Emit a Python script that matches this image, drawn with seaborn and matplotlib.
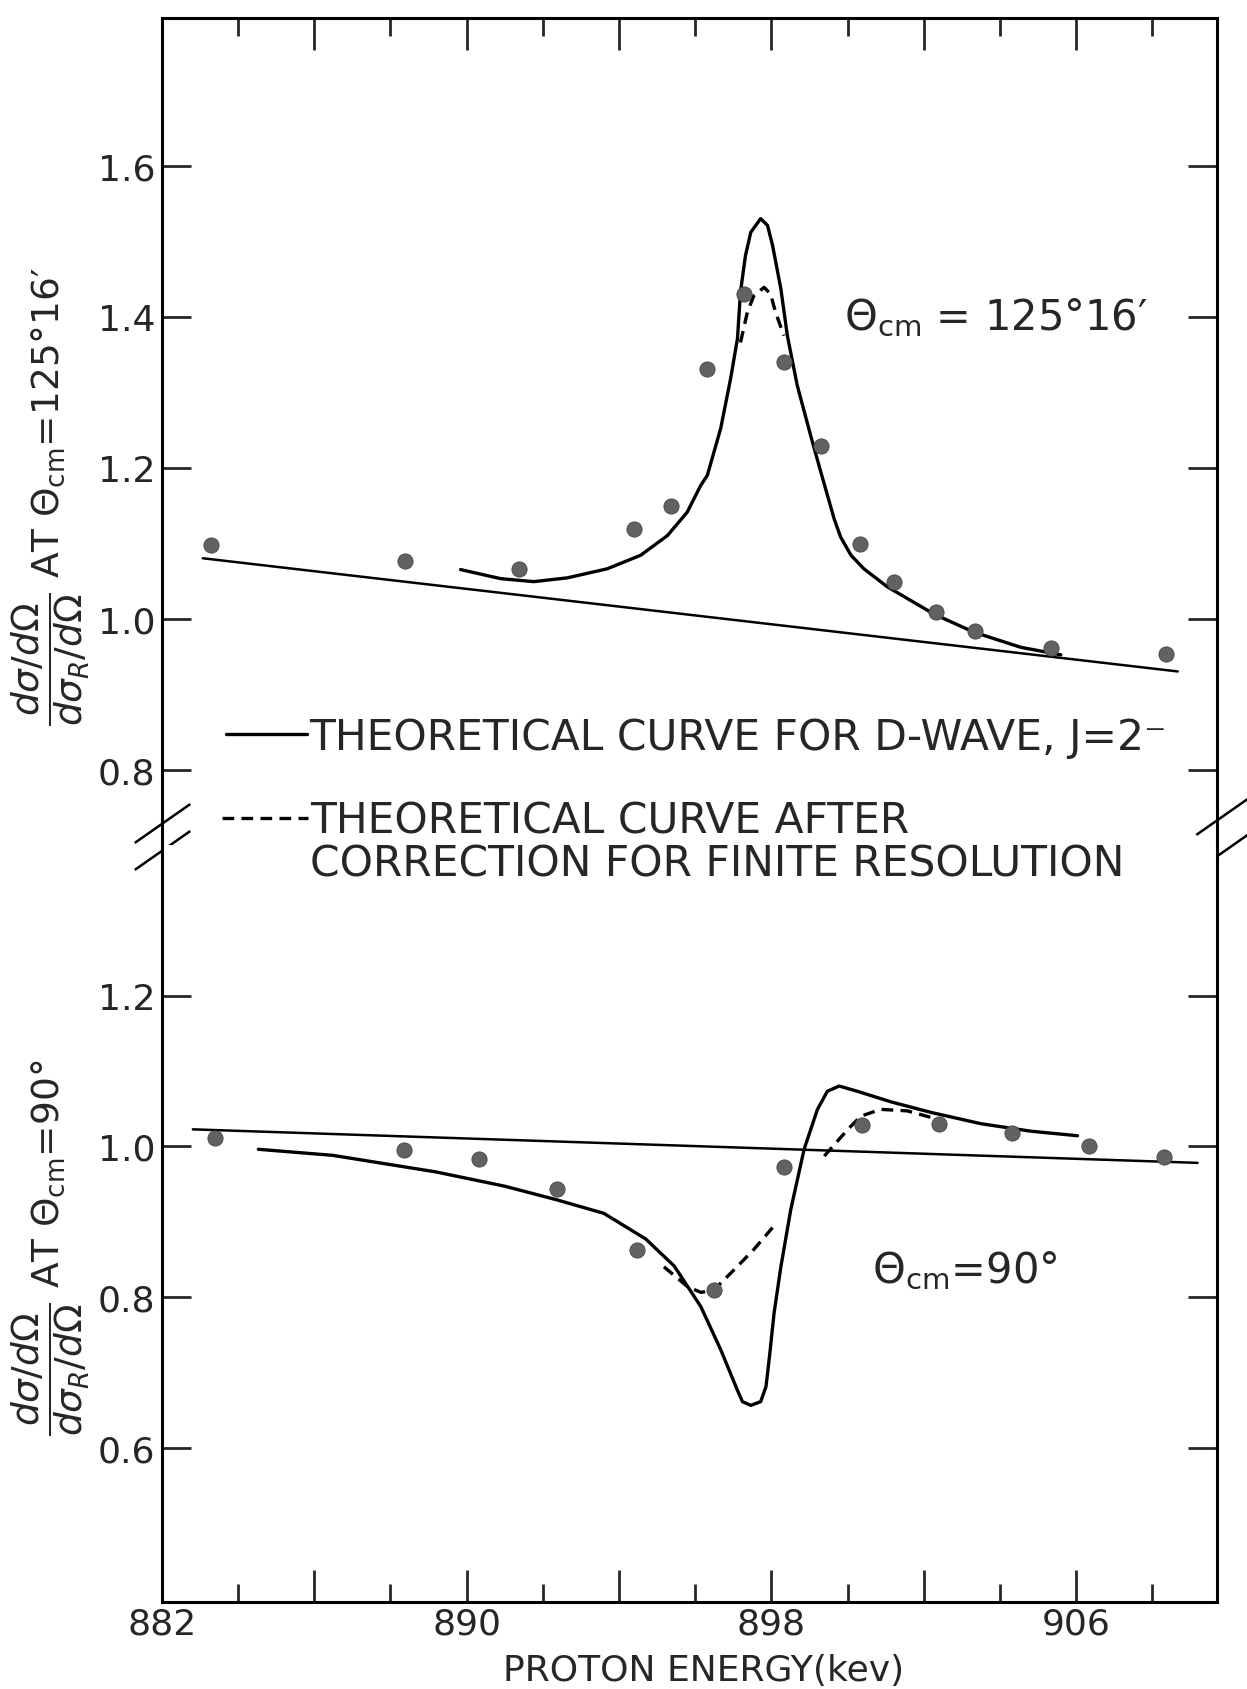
import matplotlib
matplotlib.use('Agg')
import matplotlib.pyplot as plt
import seaborn as sns
from matplotlib import font_manager
from matplotlib.lines import Line2D
from matplotlib.ticker import MultipleLocator, FuncFormatter

# ---- upper panel, Theta_cm = 125 deg 16' ----
top_pts_e = [883.30, 888.39, 891.37, 894.39, 895.36, 896.32, 897.28, 898.33,
             899.30, 900.33, 901.22, 902.32, 903.34, 905.34, 908.36]
top_pts_y = [1.097, 1.077, 1.066, 1.119, 1.149, 1.331, 1.430, 1.340,
             1.229, 1.099, 1.048, 1.009, 0.983, 0.961, 0.953]

top_solid_e = [889.84, 890.89, 891.76, 892.64, 893.69, 894.57, 895.27, 895.79,
               896.14, 896.32, 896.67, 896.93, 897.11, 897.19, 897.32, 897.46,
               897.72, 897.90, 898.03, 898.25, 898.42, 898.68, 899.03, 899.30,
               899.65, 899.82, 900.09, 900.43, 901.05, 902.27, 903.32, 904.55,
               905.60]
top_solid_y = [1.065, 1.053, 1.049, 1.054, 1.066, 1.084, 1.110, 1.141,
               1.176, 1.190, 1.252, 1.318, 1.371, 1.433, 1.481, 1.512,
               1.530, 1.521, 1.495, 1.437, 1.375, 1.309, 1.243, 1.194,
               1.132, 1.108, 1.084, 1.066, 1.042, 1.006, 0.982, 0.962,
               0.952]

top_dash_e = [897.19, 897.37, 897.54, 897.81, 897.98, 898.11, 898.33]
top_dash_y = [1.366, 1.406, 1.428, 1.439, 1.430, 1.406, 1.375]

top_base_e = [883.07, 908.67]
top_base_y = [1.080, 0.930]

# ---- lower panel, Theta_cm = 90 deg ----
bot_pts_e = [883.40, 888.36, 890.32, 892.36, 894.48, 896.49, 898.33, 900.39,
             902.40, 904.33, 906.34, 908.30]
bot_pts_y = [1.011, 0.995, 0.983, 0.943, 0.862, 0.809, 0.972, 1.028,
             1.029, 1.018, 1.000, 0.986]

bot_solid_e = [884.53, 886.48, 889.19, 891.00, 892.36, 893.60, 894.70, 895.45,
               896.15, 896.67, 897.11, 897.24, 897.46, 897.72, 897.86, 897.96,
               898.07, 898.25, 898.51, 898.86, 899.21, 899.47, 899.78, 900.26,
               901.14, 902.19, 903.50, 904.82, 906.04]
bot_solid_y = [0.996, 0.988, 0.966, 0.947, 0.929, 0.911, 0.877, 0.841,
               0.787, 0.730, 0.676, 0.661, 0.656, 0.661, 0.681, 0.725,
               0.778, 0.840, 0.916, 0.996, 1.049, 1.073, 1.080, 1.073,
               1.059, 1.045, 1.030, 1.020, 1.014]

bot_dash1_e = [895.18, 895.79, 896.15, 896.49, 897.02, 897.54, 898.03]
bot_dash1_y = [0.840, 0.814, 0.806, 0.809, 0.836, 0.863, 0.892]
bot_dash2_e = [899.39, 900.00, 900.35, 900.87, 901.57, 902.36]
bot_dash2_y = [0.987, 1.022, 1.040, 1.049, 1.047, 1.036]

bot_base_e = [882.81, 909.19]
bot_base_y = [1.0225, 0.978]

top_yticks = [0.8, 1.0, 1.2, 1.4, 1.6]
bot_yticks = [0.6, 0.8, 1.0, 1.2]

sns.set_style('ticks')
names = {f.name for f in font_manager.fontManager.ttflist}
narrow = 'Liberation Sans Narrow' in names
family = 'Liberation Sans Narrow' if narrow else 'DejaVu Sans'
plt.rcParams['font.family'] = [family, 'DejaVu Sans']
plt.rcParams['mathtext.fontset'] = 'dejavusans'

fs_tick = 26
fs_leg = 30.5
em = fs_leg * 100 / 72

fig = plt.figure(figsize=(12.47, 16.9), dpi=100)
ax1 = fig.add_axes([0.1299, 0.4994, 0.8460, 0.4894])
ax2 = fig.add_axes([0.1299, 0.0515, 0.8460, 0.4479])

lw = 2.4
dot = dict(s=120, color='#626262', edgecolor='#444444', linewidth=0.6, zorder=3)
dash = (0, (3.5, 2.2))

sns.lineplot(x=top_base_e, y=top_base_y, ax=ax1, color='k', lw=1.8, sort=False, estimator=None)
sns.lineplot(x=top_solid_e, y=top_solid_y, ax=ax1, color='k', lw=lw, sort=False, estimator=None)
sns.lineplot(x=top_dash_e, y=top_dash_y, ax=ax1, color='k', lw=lw, sort=False, estimator=None,
             linestyle=dash)
sns.scatterplot(x=top_pts_e, y=top_pts_y, ax=ax1, **dot)

sns.lineplot(x=bot_base_e, y=bot_base_y, ax=ax2, color='k', lw=1.8, sort=False, estimator=None)
sns.lineplot(x=bot_solid_e, y=bot_solid_y, ax=ax2, color='k', lw=lw, sort=False, estimator=None)
for de, dy in [(bot_dash1_e, bot_dash1_y), (bot_dash2_e, bot_dash2_y)]:
    sns.lineplot(x=de, y=dy, ax=ax2, color='k', lw=lw, sort=False, estimator=None,
                 linestyle=dash)
sns.scatterplot(x=bot_pts_e, y=bot_pts_y, ax=ax2, **dot)

ax1.set_ylim(0.7, 1.796)
ax2.set_ylim(0.395, 1.4)
for ax in (ax1, ax2):
    ax.set_xlim(882, 909.7)
    ax.set_xlabel('')
    ax.set_ylabel('')
    ax.xaxis.set_major_locator(MultipleLocator(4, offset=2))
    ax.xaxis.set_minor_locator(MultipleLocator(4))
    ax.xaxis.set_major_formatter(FuncFormatter(
        lambda v, p: f'{v:.0f}' if round(v - 882) % 8 == 0 else ''))
    ax.tick_params(axis='x', which='major', direction='in', length=23, width=2)
    ax.tick_params(axis='x', which='minor', direction='in', length=13, width=2)
    ax.tick_params(axis='y', direction='in', left=True, right=True, length=21, width=2,
                   labelsize=fs_tick, pad=5)
    for s in ax.spines.values():
        s.set_linewidth(2.2)
        s.set_color('k')

ax1.set_yticks(top_yticks)
ax1.set_yticklabels([f'{v:.1f}' for v in top_yticks])
ax2.set_yticks(bot_yticks)
ax2.set_yticklabels([f'{v:.1f}' for v in bot_yticks])

ax1.tick_params(axis='x', which='both', top=True, bottom=False, labelbottom=False)
ax2.tick_params(axis='x', which='both', top=False, bottom=True, labelsize=26, pad=3)
ax1.spines['bottom'].set_visible(False)
ax2.spines['top'].set_visible(False)

# axis break slashes on both spines
brk = [(-1, -0.7), (1, 0.7)]
ax1.plot([0, 0], [0.027, -0.006], transform=ax1.transAxes, marker=brk, markersize=40,
         ls='none', color='k', mew=1.8, clip_on=False)
ax1.plot([1.0076, 1.005], [0.037, -0.008], transform=ax1.transAxes, marker=brk, markersize=42,
         ls='none', color='k', mew=1.8, clip_on=False)

ax1.text(899.90, 1.40, r'$\Theta_{\mathrm{cm}}$ = 125°16′', fontsize=30,
         ha='left', va='center')
ax2.text(900.63, 0.836, r'$\Theta_{\mathrm{cm}}$=90°', fontsize=30,
         ha='left', va='center')

ax2.set_xlabel('PROTON ENERGY(kev)', fontsize=26, va='baseline')
ax2.xaxis.set_label_coords(0.513, -0.1037)

ylab_top = r'$\dfrac{d\sigma/d\Omega}{d\sigma_R/d\Omega}$ AT $\Theta_{\mathrm{cm}}$=125°16′'
ylab_bot = r'$\dfrac{d\sigma/d\Omega}{d\sigma_R/d\Omega}$ AT $\Theta_{\mathrm{cm}}$=90°'
fig.text(0.041, 0.706, ylab_top, rotation=90, fontsize=27, ha='center', va='center')
fig.text(0.041, 0.2615, ylab_bot, rotation=90, fontsize=27, ha='center', va='center')

# legend written across the break
h_len = 81 / em
fig.legend(handles=[Line2D([], [], color='k', lw=lw)],
           labels=['THEORETICAL CURVE FOR D-WAVE, J=2⁻'],
           loc='center left', bbox_to_anchor=(0.181, 0.5633), frameon=False,
           fontsize=fs_leg, handlelength=h_len, handletextpad=0.05,
           borderpad=0, borderaxespad=0)
fig.legend(handles=[Line2D([], [], color='k', lw=lw, ls=dash),
                    Line2D([], [], color='none')],
           labels=['THEORETICAL CURVE AFTER', 'CORRECTION FOR FINITE RESOLUTION'],
           loc='upper left', bbox_to_anchor=(0.178, 1 - 801 / 1690), frameon=False,
           fontsize=fs_leg, handlelength=h_len * 1.06, handletextpad=0.05,
           labelspacing=0.02, borderpad=0, borderaxespad=0)

fig.savefig('out.png', dpi=100, facecolor='white')
